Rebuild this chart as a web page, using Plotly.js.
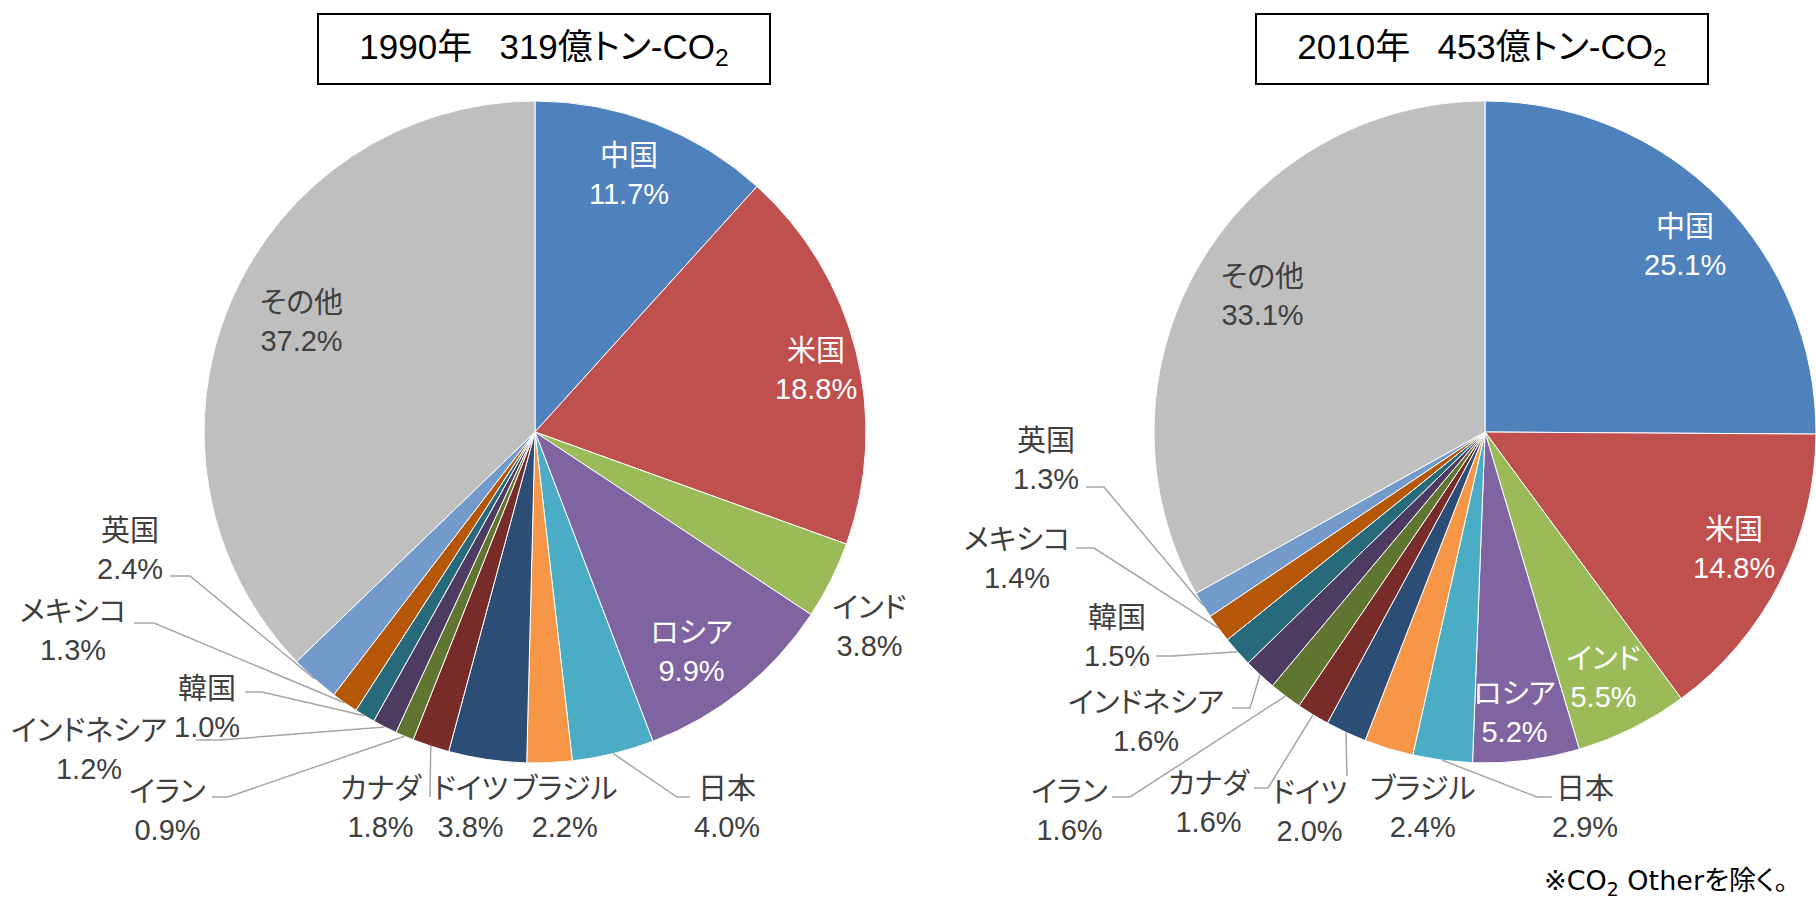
<!DOCTYPE html>
<html>
<head>
<meta charset="utf-8">
<script src="https://cdn.plot.ly/plotly-3.0.1.min.js"></script>
<style>
  html, body { margin: 0; padding: 0; background: #fff; }
  #chart { width: 1816px; height: 913px; }
  #chart text { font-feature-settings: "palt" 1; }
</style>
</head>
<body>
<div id="chart"></div>
<script>
// ---- data ----
const categories = ['中国','米国','インド','ロシア','日本','ブラジル','ドイツ','カナダ','イラン','インドネシア','韓国','メキシコ','英国','その他'];
const share1990 = [11.7, 18.8, 3.8, 9.9, 4.0, 2.2, 3.8, 1.8, 0.9, 1.2, 1.0, 1.3, 2.4, 37.2];
const share2010 = [25.1, 14.8, 5.5, 5.2, 2.9, 2.4, 2.0, 1.6, 1.6, 1.6, 1.5, 1.4, 1.3, 33.1];
const chartTitles = ['1990年\u2002\u00a0319億トン-CO<sub>2</sub>', '2010年\u2002\u00a0453億トン-CO<sub>2</sub>'];
const footnote = '※CO<sub>2</sub> Otherを除く。';

// ---- style ----
const sliceColors = ['#4F81BD','#C0504D','#9BBB59','#8064A2','#4BACC6','#F79646','#2C4D75',
                     '#772C2A','#5F7530','#4D3B62','#276A7C','#B65708','#729ACA','#BFBFBF'];
const W = 1816, H = 913, R = 331;
const centers = [[535, 432], [1485, 432]];
const titleBoxes = [[544, 49], [1482, 49]];
const labelFont = 'Liberation Sans, Arial, Noto Sans CJK JP, sans-serif';

// label layout (pixel positions of label centres, leader-line points near the label)
const labelLayout = [
  { // 1990
    '中国': {p:[629,175], c:'#fff'}, '米国': {p:[816,370], c:'#fff'}, 'インド': {p:[869,627]},
    'ロシア': {p:[691,652], c:'#fff'}, '日本': {p:[727,808], lead:[[690,797],[677,797]]},
    'ブラジル': {p:[564,808]}, 'ドイツ': {p:[470,808]}, 'カナダ': {p:[380,808], lead:[[430,797]]},
    'イラン': {p:[167,811], lead:[[212,797],[228,797]]},
    'インドネシア': {p:[89,750], lead:[[196,740],[220,740]]},
    '韓国': {p:[207,708], lead:[[245,692],[262,692]]},
    'メキシコ': {p:[73,631], lead:[[134,623],[154,623]]},
    '英国': {p:[130,550], lead:[[170,576],[190,576]]},
    'その他': {p:[301,322]}
  },
  { // 2010
    '中国': {p:[1685,246], c:'#fff'}, '米国': {p:[1734,549], c:'#fff'}, 'インド': {p:[1603,678], c:'#fff'},
    'ロシア': {p:[1514,713], c:'#fff'}, '日本': {p:[1585,808], lead:[[1552,797],[1537,797]]},
    'ブラジル': {p:[1422,808]}, 'ドイツ': {p:[1309,812], lead:[[1347,776]]},
    'カナダ': {p:[1208,803], lead:[[1254,788],[1268,788]]},
    'イラン': {p:[1069,811], lead:[[1112,797],[1130,797]]},
    'インドネシア': {p:[1146,722], lead:[[1232,708],[1250,708]]},
    '韓国': {p:[1117,637], lead:[[1156,656],[1172,656]]},
    'メキシコ': {p:[1017,559], lead:[[1076,548],[1094,548]]},
    '英国': {p:[1046,460], lead:[[1086,487],[1104,487]]},
    'その他': {p:[1262,296]}
  }
];

const px = x => x / W;
const py = y => 1 - y / H;

const series = [share1990, share2010];
const traces = series.map((vals, i) => {
  const [cx, cy] = centers[i];
  return {
    type: 'pie',
    labels: categories,
    values: vals,
    sort: false,
    direction: 'clockwise',
    rotation: 0,
    textinfo: 'none',
    hoverinfo: 'none',
    marker: { colors: sliceColors, line: { color: '#ffffff', width: 1 } },
    domain: { x: [px(cx - R), Math.min(1, px(cx + R))], y: [py(cy + R), py(cy - R)] },
    showlegend: false
  };
});

const annotations = [];
const shapes = [];

series.forEach((vals, i) => {
  const [cx, cy] = centers[i];
  const total = vals.reduce((a, b) => a + b, 0);
  let cum = 0;
  vals.forEach((v, j) => {
    const mid = (cum + v / 2) / total * 2 * Math.PI;
    cum += v;
    const edge = [cx + R * Math.sin(mid), cy - R * Math.cos(mid)];
    const cfg = labelLayout[i][categories[j]];
    annotations.push({
      xref: 'paper', yref: 'paper', x: px(cfg.p[0]), y: py(cfg.p[1]),
      xanchor: 'center', yanchor: 'middle', showarrow: false, align: 'center',
      text: categories[j] + '<br>' + v.toFixed(1) + '%',
      font: { family: labelFont, size: 29, color: cfg.c || '#404040' }
    });
    if (cfg.lead) {
      const pts = cfg.lead.concat([edge]);
      const path = pts.map((p, k) => (k ? 'L' : 'M') + px(p[0]).toFixed(5) + ',' + py(p[1]).toFixed(5)).join(' ');
      shapes.push({ type: 'path', xref: 'paper', yref: 'paper', path: path,
                    line: { color: '#A6A6A6', width: 1.5 }, layer: 'above' });
    }
  });
  annotations.push({
    xref: 'paper', yref: 'paper', x: px(titleBoxes[i][0]), y: py(titleBoxes[i][1]),
    xanchor: 'center', yanchor: 'middle', showarrow: false,
    text: chartTitles[i], width: 450, height: 68, borderpad: 0,
    bordercolor: '#000000', borderwidth: 2, bgcolor: '#ffffff',
    font: { family: labelFont, size: 35, color: '#000000' }
  });
});

annotations.push({
  xref: 'paper', yref: 'paper', x: px(1802), y: py(882),
  xanchor: 'right', yanchor: 'middle', showarrow: false,
  text: footnote,
  font: { family: 'DejaVu Sans, Noto Sans CJK JP, sans-serif', size: 27, color: '#000000' }
});

const layout = {
  width: W, height: H,
  margin: { l: 0, r: 0, t: 0, b: 0, pad: 0 },
  paper_bgcolor: '#ffffff',
  showlegend: false,
  annotations: annotations,
  shapes: shapes
};

Plotly.newPlot('chart', traces, layout, { staticPlot: true, displayModeBar: false });
</script>
</body>
</html>
